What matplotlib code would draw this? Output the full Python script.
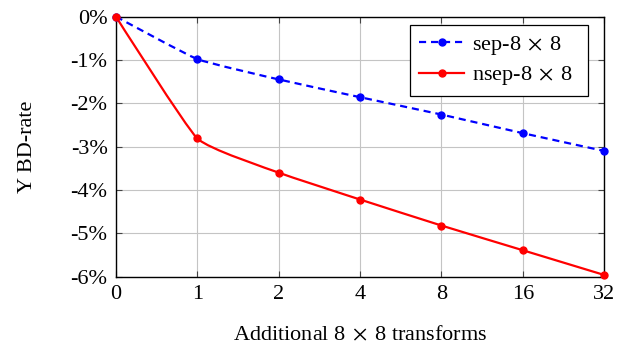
import numpy as np
import matplotlib
matplotlib.use('Agg')
import matplotlib.pyplot as plt
from matplotlib.path import Path
from matplotlib.patches import PathPatch
from matplotlib.lines import Line2D

plt.rcParams['font.family'] = ['Liberation Serif', 'DejaVu Serif']
plt.rcParams['mathtext.fontset'] = 'stix'

x_labels = ['0', '1', '2', '4', '8', '16', '32']
sep_vals = [0.0, -0.98, -1.45, -1.86, -2.26, -2.69, -3.10]
nsep_vals = [0.0, -2.81, -3.60, -4.22, -4.82, -5.39, -5.96]
y_ticks = [0, -1, -2, -3, -4, -5, -6]

times = r'$\;\times\;$'


def smooth_path(xs, ys, tension=0.07):
    # lightly smoothed curve through the points
    pts = np.column_stack([xs, ys]).astype(float)
    n = len(pts)
    verts = [pts[0]]
    codes = [Path.MOVETO]
    for i in range(n - 1):
        p1 = pts[i]
        p2 = pts[i + 1]
        c1 = p1 + (pts[i + 1] - pts[i - 1]) * tension if i > 0 else p1
        c2 = p2 - (pts[i + 2] - pts[i]) * tension if i + 2 < n else p2
        verts += [c1, c2, p2]
        codes += [Path.CURVE4] * 3
    return Path(verts, codes)


fig = plt.figure(figsize=(6.3, 3.45), dpi=100)
ax = fig.add_axes([0.184, 0.198, 0.775, 0.754])
xs = np.arange(len(x_labels))
dash = (0, (3.2, 2.2))

for vals, color, ls in [(sep_vals, 'blue', dash), (nsep_vals, 'red', '-')]:
    ax.add_patch(PathPatch(smooth_path(xs, vals), facecolor='none', edgecolor=color,
                           lw=1.6, linestyle=ls, zorder=3))
    ax.plot(xs, vals, 'o', color=color, markersize=5, zorder=4, clip_on=False)

ax.set_xlim(0, 6)
ax.set_ylim(-6, 0)
ax.set_xticks(xs)
ax.set_xticklabels(x_labels)
ax.set_yticks(y_ticks)
ax.set_yticklabels([f'{v}%' for v in y_ticks])
ax.grid(True, color='#c4c4c4', lw=0.8)
ax.set_axisbelow(True)
ax.tick_params(direction='in', top=True, right=True, length=4, width=0.8,
               labelsize=16, color='#444444', pad=6)
for s in ax.spines.values():
    s.set_linewidth(1.0)
ax.set_xlabel('Additional 8' + times + '8 transforms', fontsize=16, labelpad=16)
ax.set_ylabel('Y BD-rate', fontsize=16, labelpad=24)

handles = [Line2D([], [], color='blue', ls=dash, lw=1.6, marker='o', markersize=5),
           Line2D([], [], color='red', ls='-', lw=1.6, marker='o', markersize=5)]
ax.legend(handles, ['sep-8' + times + '8  ', 'nsep-8' + times + '8  '], loc='upper right',
          fontsize=16, fancybox=False, edgecolor='black', framealpha=1,
          bbox_to_anchor=(0.967, 0.969), borderaxespad=0, handlelength=2.0,
          borderpad=0.4, labelspacing=0.35, handletextpad=0.35)
ax.get_legend().get_frame().set_linewidth(0.9)

fig.savefig('out.png', dpi=100)
